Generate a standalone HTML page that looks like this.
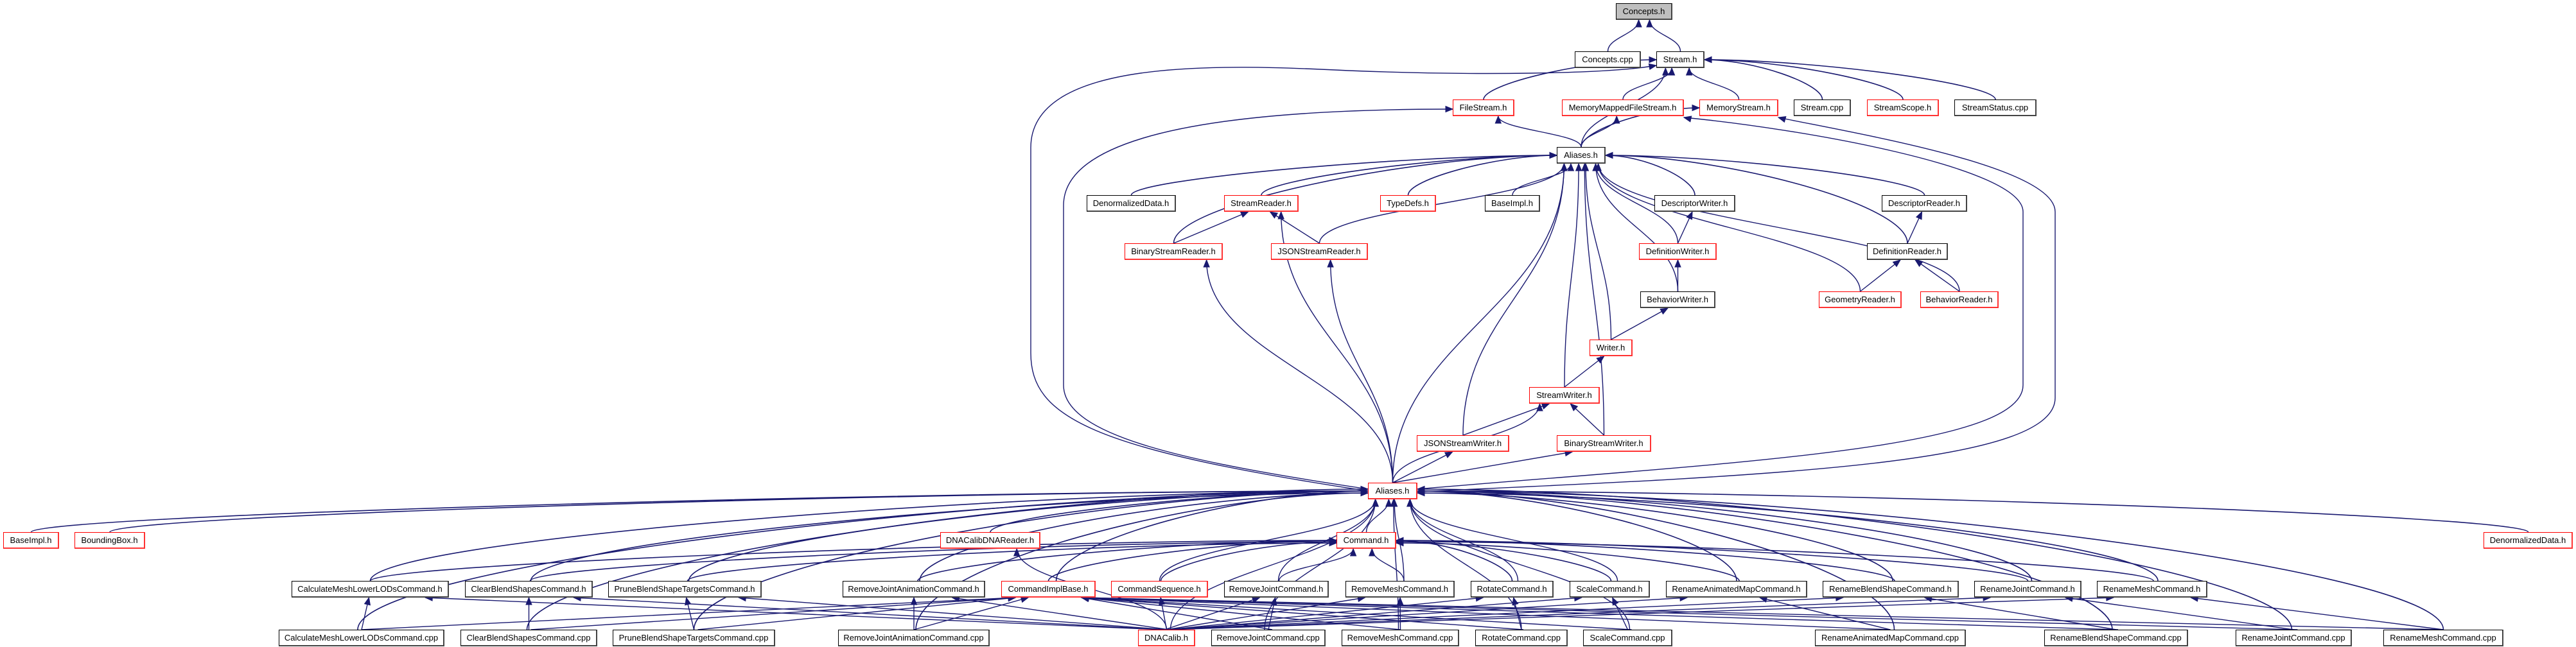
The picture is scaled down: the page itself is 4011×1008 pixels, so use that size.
<!DOCTYPE html>
<html><head><meta charset="utf-8">
<style>
html,body{margin:0;padding:0;background:#fff;}
body{width:4011px;height:1008px;position:relative;overflow:hidden;font-family:"Liberation Sans",Arial,sans-serif;}
svg{position:absolute;left:0;top:0;}
.n{position:absolute;height:26px;box-sizing:border-box;background:#fff;border:1px solid #000;border-bottom:2px solid #444;border-right:2px solid #444;font-size:13px;line-height:23px;text-align:center;white-space:nowrap;color:#000;}
.r{border-color:#f00;border-bottom-color:#f33;border-right-color:#f33;}
.g{background:#bfbfbf;}
</style></head><body>
<svg id="s" width="4011" height="1008" viewBox="0 0 4011 1008"></svg>
<div id="nodes"></div>
<script>
var N={},H=26;
function add(row,y){row.forEach(function(a){N[a[0]]={n:a[0],x1:a[1],x2:a[2],y:y,c:a[3]||''};});}
add([["Concepts.h",2516,2604,"g"]],5);
add([["Concepts.cpp",2452,2555],["Stream.h",2579,2654]],80);
add([["FileStream.h",2262,2358,"r"],["MemoryMappedFileStream.h",2432,2622,"r"],["MemoryStream.h",2646,2769,"r"],["Stream.cpp",2793,2882],["StreamScope.h",2907,3019,"r"],["StreamStatus.cpp",3043,3171]],155);
add([["AT",2424,2500]],229);
add([["DenormalizedData.h#1",1692,1831],["StreamReader.h",1906,2022,"r"],["TypeDefs.h",2149,2236,"r"],["BaseImpl.h#1",2312,2398],["DescriptorWriter.h",2576,2702],["DescriptorReader.h",2930,3063]],304);
add([["BinaryStreamReader.h",1751,1904,"r"],["JSONStreamReader.h",1979,2130,"r"],["DefinitionWriter.h",2552,2673,"r"],["DefinitionReader.h",2907,3033]],379);
add([["BehaviorWriter.h",2554,2671],["GeometryReader.h",2832,2961,"r"],["BehaviorReader.h",2990,3112,"r"]],454);
add([["Writer.h",2475,2542,"r"]],529);
add([["StreamWriter.h",2381,2491,"r"]],603);
add([["JSONStreamWriter.h",2206,2350,"r"],["BinaryStreamWriter.h",2424,2571,"r"]],678);
add([["AB",2130,2207,"r"]],752);
add([["BaseImpl.h",5,92,"r"],["BoundingBox.h",116,226,"r"],["DNACalibDNAReader.h",1464,1620,"r"],["Command.h",2081,2174,"r"],["DenormalizedData.h",3867,4006,"r"]],829);
var H12=[["CalculateMeshLowerLODsCommand.h",454,699],["ClearBlendShapesCommand.h",724,923],["PruneBlendShapeTargetsCommand.h",947,1186],["RemoveJointAnimationCommand.h",1312,1534],["CommandImplBase.h",1559,1706,"r"],["CommandSequence.h",1730,1881,"r"],["RemoveJointCommand.h",1906,2069],["RemoveMeshCommand.h",2095,2265],["RotateCommand.h",2290,2419],["ScaleCommand.h",2444,2569],["RenameAnimatedMapCommand.h",2594,2814],["RenameBlendShapeCommand.h",2838,3050],["RenameJointCommand.h",3074,3241],["RenameMeshCommand.h",3265,3437]];
add(H12,905);
var C13=[["CalculateMeshLowerLODsCommand.cpp",434,692],["ClearBlendShapesCommand.cpp",717,930],["PruneBlendShapeTargetsCommand.cpp",954,1207],["RemoveJointAnimationCommand.cpp",1305,1541],["DNACalib.h",1772,1861,"r"],["RemoveJointCommand.cpp",1886,2064],["RemoveMeshCommand.cpp",2089,2272],["RotateCommand.cpp",2297,2441],["ScaleCommand.cpp",2465,2604],["RenameAnimatedMapCommand.cpp",2826,3061],["RenameBlendShapeCommand.cpp",3183,3407],["RenameJointCommand.cpp",3481,3662],["RenameMeshCommand.cpp",3711,3898]];
add(C13,981);
var html="";
for(var k in N){var o=N[k];var label=k=="AT"||k=="AB"?"Aliases.h":k.split("#")[0];
html+='<div class="n '+o.c+'" style="left:'+o.x1+'px;top:'+o.y+'px;width:'+(o.x2-o.x1)+'px">'+label+'</div>';}
document.getElementById("nodes").innerHTML=html;
var P="",col="#191970";
function arrow(cx,cy,tx,ty){var a=Math.atan2(ty-cy,tx-cx),L=11,W=4.5;
var bx=tx-L*Math.cos(a),by=ty-L*Math.sin(a);
var px=-Math.sin(a)*W,py=Math.cos(a)*W;
P+='<polygon points="'+tx+','+ty+' '+(bx+px)+','+(by+py)+' '+(bx-px)+','+(by-py)+'" fill="'+col+'" stroke="'+col+'"/>';}
function e(s,t,off,force){var S=N[s],T=N[t];off=off||0;
var sx=(S.x1+S.x2)/2+off,sy=S.y;var tcx=(T.x1+T.x2)/2,ty=T.y+H;
var dy=sy-ty,dx=sx-tcx;var d;
if(!force&&Math.abs(dx)>3.5*dy){var side=dx<0?T.x1:T.x2;var tyy=T.y+H/2+(off%6);
var c2x=side+(dx<0?-1:1)*Math.abs(dx)*0.35;
d="M"+sx+","+sy+" C"+sx+","+(sy-dy*0.5)+" "+c2x+","+tyy+" "+side+","+tyy;
P+='<path d="'+d+'" fill="none" stroke="'+col+'" stroke-width="1.6"/>';arrow(c2x,tyy,side,tyy);}
else{var w=T.x2-T.x1;var tx=tcx+Math.max(-w*0.35,Math.min(w*0.35,dx*0.15));
if(force){d="M"+sx+","+sy+" L"+tx+","+ty;P+='<path d="'+d+'" fill="none" stroke="'+col+'" stroke-width="1.4"/>';arrow(sx,sy,tx,ty);return;}
d="M"+sx+","+sy+" C"+sx+","+(sy-dy*0.45)+" "+tx+","+(ty+dy*0.45)+" "+tx+","+ty;
P+='<path d="'+d+'" fill="none" stroke="'+col+'" stroke-width="1.4"/>';arrow(tx,ty+dy*0.45,tx,ty);}}
function cp(d,ax,ay,bx,by){P+='<path d="'+d+'" fill="none" stroke="'+col+'" stroke-width="1.4"/>';arrow(ax,ay,bx,by);}
e("Concepts.cpp","Concepts.h");e("Stream.h","Concepts.h");
["FileStream.h","MemoryMappedFileStream.h","MemoryStream.h","Stream.cpp","StreamScope.h","StreamStatus.cpp","AT"].forEach(function(s){e(s,"Stream.h");});
["FileStream.h","MemoryMappedFileStream.h","MemoryStream.h"].forEach(function(t){e("AT",t);});
["DenormalizedData.h#1","StreamReader.h","TypeDefs.h","BaseImpl.h#1","DescriptorWriter.h","DescriptorReader.h","BinaryStreamReader.h","JSONStreamReader.h","DefinitionWriter.h","DefinitionReader.h","BehaviorWriter.h","GeometryReader.h","BehaviorReader.h","Writer.h","StreamWriter.h","JSONStreamWriter.h","BinaryStreamWriter.h","AB"].forEach(function(s){e(s,"AT",0,false);});
e("BinaryStreamReader.h","StreamReader.h",0,true);e("JSONStreamReader.h","StreamReader.h",0,true);
e("AB","StreamReader.h");e("AB","BinaryStreamReader.h");e("AB","JSONStreamReader.h");
e("DefinitionWriter.h","DescriptorWriter.h",0,true);e("BehaviorWriter.h","DefinitionWriter.h",0,true);e("Writer.h","BehaviorWriter.h",0,true);e("StreamWriter.h","Writer.h",0,true);
e("JSONStreamWriter.h","StreamWriter.h",0,true);e("BinaryStreamWriter.h","StreamWriter.h",0,true);e("AB","StreamWriter.h");
e("AB","JSONStreamWriter.h",0,true);e("AB","BinaryStreamWriter.h",0,true);
e("DefinitionReader.h","DescriptorReader.h",0,true);e("GeometryReader.h","DefinitionReader.h",0,true);e("BehaviorReader.h","DefinitionReader.h",0,true);
cp("M2130,765 C1700,700 1605,650 1605,550 L1605,230 C1605,90 1900,100 2100,110 C2300,118 2500,115 2572,103",2500,115,2579,102);
cp("M2130,762 C1850,720 1656,680 1656,600 L1656,320 C1656,200 1950,170 2262,170",2150,170,2262,170);
cp("M2207,762 C2700,720 3150,700 3150,600 L3150,330 C3150,260 2800,200 2622,183",2700,200,2622,183);
cp("M2207,766 C2800,740 3200,720 3200,620 L3200,330 C3200,260 2900,210 2769,183",2850,205,2769,183);
["BaseImpl.h","BoundingBox.h","DNACalibDNAReader.h","Command.h","DenormalizedData.h"].forEach(function(s){e(s,"AB");});
H12.forEach(function(a,i){var s=a[0];e(s,"AB",(i%5)*3);e(s,"Command.h",(i%4)*2);});
C13.forEach(function(a,i){var s=a[0];e(s,"AB",(i%5)*3-6);if(s!="DNACalib.h")e(s,"CommandImplBase.h",(i%3)*3,true);});
var pairs=[[0,0],[1,1],[2,2],[3,3],[5,6],[6,7],[7,8],[8,9],[9,10],[10,11],[11,12],[12,13]];
pairs.forEach(function(p){e(C13[p[0]][0],H12[p[1]][0],0,true);});
H12.forEach(function(a,i){if(i!=4&&i!=5)e("DNACalib.h",a[0],(i%5)*3-6,true);});
e("DNACalib.h","DNACalibDNAReader.h");e("DNACalib.h","CommandSequence.h",0,true);
document.getElementById("s").innerHTML=P;
</script>
</body></html>
